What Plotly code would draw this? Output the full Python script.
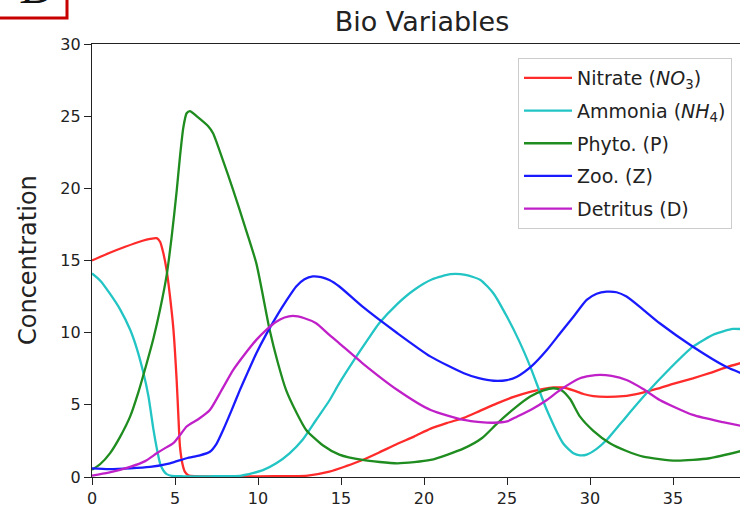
import plotly.graph_objects as go

# ---------------- data ----------------
nitrate_t = [0, 1, 2, 3, 3.5, 3.9, 4.1, 4.3, 4.5, 4.7, 4.9, 5.1, 5.2, 5.3, 5.45, 5.6, 5.8, 6.2, 8, 10, 12, 13,
             14.3, 15.3, 16.3, 17.3, 18.4, 19.4, 20.4, 21.4, 22.4, 23.4, 24.4, 25.4, 26.4, 27.2, 27.8, 28.4,
             29.0, 29.6, 30.2, 31.0, 32.0, 33.0, 34.0, 35.0, 36.2, 37.2, 38.2, 39.1]
nitrate = [15.0, 15.5, 15.95, 16.35, 16.5, 16.55, 16.3, 15.5, 14.3, 12.5, 10.3, 6.7, 4.3, 2.1, 0.9, 0.35, 0.12, 0.06, 0.05, 0.05, 0.06, 0.1,
           0.37, 0.75, 1.18, 1.7, 2.3, 2.8, 3.35, 3.75, 4.1, 4.6, 5.1, 5.55, 5.9, 6.1, 6.2, 6.2, 6.0, 5.75, 5.6, 5.55, 5.6, 5.8,
           6.1, 6.45, 6.84, 7.2, 7.6, 7.9]

ammonia_t = [0, 0.5, 1.08, 1.7, 2.3, 2.7, 3.1, 3.4, 3.7, 3.9, 4.1, 4.3, 4.5, 4.8, 5.5, 7, 9, 10.3, 11.1, 11.9, 12.7,
             13.5, 14.3, 14.9, 15.9, 16.6, 17.3, 18.4, 19.4, 20.5, 21.6, 22.5, 23.4, 24.2, 25.0, 25.7, 26.4,
             27.4, 28.4, 29.0, 29.4, 29.8, 30.4, 31.0, 32.2, 33.4, 34.8, 36.2, 37.5, 38.6, 39.1]
ammonia = [14.1, 13.6, 12.7, 11.6, 10.2, 8.9, 7.2, 5.6, 3.3, 2.0, 0.95, 0.45, 0.2, 0.08, 0.05, 0.05, 0.1, 0.48, 0.95, 1.64, 2.6,
           3.95, 5.3, 6.5, 8.3, 9.5, 10.65, 12.0, 12.96, 13.7, 14.05, 14.0, 13.65, 12.7, 11.1, 9.5, 7.65,
           4.64, 2.3, 1.65, 1.5, 1.55, 1.95, 2.56, 4.2, 5.8, 7.5, 9.03, 9.9, 10.26, 10.25]

phyto_t = [0, 0.5, 1.08, 1.7, 2.3, 2.8, 3.3, 3.7, 4.1, 4.5, 4.8, 5.1, 5.3, 5.5, 5.7, 5.9, 6.3, 7.0, 7.3, 7.9, 8.5,
           9.2, 9.9, 10.7, 11.2, 11.7, 12.3, 12.9, 13.9, 14.9, 16.3, 18.4, 20.4, 22.4, 23.5, 24.4, 25.5, 26.4,
           27.2, 27.8, 28.3, 28.8, 29.4, 30.2, 31.2, 32.2, 33.2, 35.2, 37.2, 39.1]
phyto = [0.5, 0.9, 1.64, 2.8, 4.2, 5.9, 7.9, 9.6, 11.6, 14.0, 16.65, 19.8, 22.2, 24.2, 25.2, 25.35, 25.0, 24.3, 23.8, 21.9, 19.9,
         17.4, 14.8, 10.2, 7.9, 6.0, 4.5, 3.26, 2.2, 1.55, 1.18, 0.95, 1.18, 1.98, 2.7, 3.7, 4.8, 5.57,
         6.0, 6.15, 6.0, 5.4, 4.18, 3.2, 2.34, 1.8, 1.41, 1.13, 1.3, 1.8]

zoo_t = [0, 1, 2.3, 3.5, 4.7, 5.7, 6.5, 7.1, 7.5, 7.9, 8.4, 8.9, 9.4, 9.9, 10.5, 11.1, 11.7, 12.3, 12.8, 13.3, 13.8,
         14.3, 14.9, 16.3, 18.4, 20.4, 22.4, 23.3, 24.2, 25.0, 25.6, 26.5, 27.4, 28.2, 29.0, 29.8, 30.4, 31.0,
         31.6, 32.2, 33.2, 34.2, 36.2, 38.2, 39.1]
zoo = [0.6, 0.55, 0.6, 0.7, 0.95, 1.3, 1.5, 1.75, 2.3, 3.26, 4.6, 6.0, 7.3, 8.57, 9.9, 11.1, 12.2, 13.2, 13.7, 13.9, 13.85,
       13.65, 13.2, 11.8, 9.96, 8.34, 7.19, 6.85, 6.67, 6.72, 6.95, 7.7, 8.8, 9.96, 11.1, 12.27, 12.7, 12.84,
       12.8, 12.5, 11.6, 10.65, 9.03, 7.64, 7.2]

detritus_t = [0, 1, 2.3, 3.2, 3.9, 4.4, 4.9, 5.3, 5.7, 6.4, 7.1, 7.8, 8.5, 9.2, 9.9, 10.5, 11.1, 11.6, 12.1, 12.8,
              13.5, 14.3, 14.9, 16.3, 18.4, 20.4, 22.4, 23.4, 24.2, 25.0, 25.6, 26.5, 27.4, 28.2, 29.4, 30.0,
              30.6, 31.3, 32.2, 33.2, 34.2, 36.2, 38.0, 39.1]
detritus = [0.1, 0.3, 0.7, 1.1, 1.64, 2.0, 2.34, 2.9, 3.5, 4.0, 4.64, 6.0, 7.4, 8.5, 9.5, 10.2, 10.76, 11.05, 11.16, 11.0,
            10.65, 9.84, 9.26, 7.88, 6.03, 4.64, 3.95, 3.8, 3.76, 3.85, 4.18, 4.7, 5.34, 6.03, 6.84, 7.0,
            7.07, 7.0, 6.72, 6.1, 5.34, 4.3, 3.8, 3.55]

series_names = ["Nitrate (<i>NO</i><sub>3</sub>)", "Ammonia (<i>NH</i><sub>4</sub>)",
                "Phyto. (P)", "Zoo. (Z)", "Detritus (D)"]
series_colors = ["#ff2a2a", "#22c4c4", "#1e8c1e", "#1a1aff", "#c020c8"]
x_ticks = [0, 5, 10, 15, 20, 25, 30, 35]
y_ticks = [0, 5, 10, 15, 20, 25, 30]

# ---------------- figure ----------------
FONT = "DejaVu Sans"
fig = go.Figure()
for i, (t, v) in enumerate([(nitrate_t, nitrate), (ammonia_t, ammonia), (phyto_t, phyto),
                            (zoo_t, zoo), (detritus_t, detritus)]):
    fig.add_trace(go.Scatter(x=t, y=v, mode="lines", name=series_names[i],
                             legendgroup=str(i),
                             line=dict(color=series_colors[i], width=2.3, shape="spline", smoothing=0.6)))

W, H = 740, 518
L, R, T, B = 92, 0, 44, 41
pw, ph = W - L - R, H - T - B

def px2paper_x(px):
    return (px - L) / pw

def px2paper_y(py):
    return 1 - (py - T) / ph

fig.update_layout(
    width=W, height=H,
    margin=dict(l=L, r=R, t=T, b=B, pad=0),
    paper_bgcolor="white", plot_bgcolor="white",
    font=dict(family=FONT, color="#222222"),
    title=dict(text="Bio Variables", x=422 / W, xanchor="center",
               y=1 - 22 / H, yanchor="middle", font=dict(size=27, family=FONT, color="#222222")),
    showlegend=True,
    legend=dict(x=px2paper_x(518), y=px2paper_y(58), xanchor="left", yanchor="top",
                bgcolor="rgba(255,255,255,0.85)", bordercolor="#cccccc", borderwidth=1,
                font=dict(size=19, family=FONT, color="#222222"),
                tracegroupgap=5, itemwidth=48, entrywidth=230),
    xaxis=dict(range=[0, (W - L - R) / 16.6], tickvals=x_ticks, ticks="outside", ticklen=7,
               tickwidth=1.2, tickcolor="#222", showline=True, linecolor="#222", linewidth=1.2,
               mirror=True, showgrid=False, zeroline=False,
               tickfont=dict(size=16, family=FONT, color="#222")),
    yaxis=dict(range=[0, 30], tickvals=y_ticks, ticks="outside", ticklen=7,
               tickwidth=1.2, tickcolor="#222", showline=True, linecolor="#222", linewidth=1.2,
               mirror=False, showgrid=False, zeroline=False,
               tickfont=dict(size=16, family=FONT, color="#222")),
    annotations=[
        dict(text="Concentration", xref="paper", yref="paper", x=px2paper_x(28), y=px2paper_y(260),
             xanchor="center", yanchor="middle", textangle=-90, showarrow=False,
             font=dict(size=24, family=FONT, color="#222")),
        dict(text="<i>D</i>", xref="paper", yref="paper", x=px2paper_x(38), y=px2paper_y(15),
             xanchor="center", yanchor="bottom", showarrow=False,
             font=dict(size=48, family="Liberation Serif", color="#111")),
    ],
    shapes=[
        dict(type="rect", xref="paper", yref="paper", x0=px2paper_x(-10), x1=px2paper_x(67),
             y0=px2paper_y(18), y1=px2paper_y(-20), line=dict(color="#c80000", width=3),
             fillcolor="rgba(0,0,0,0)", layer="above"),
    ],
)

fig.write_html("out.html", config={"displayModeBar": False},
               post_script="document.body.style.margin='0px';document.body.style.overflow='hidden';")
